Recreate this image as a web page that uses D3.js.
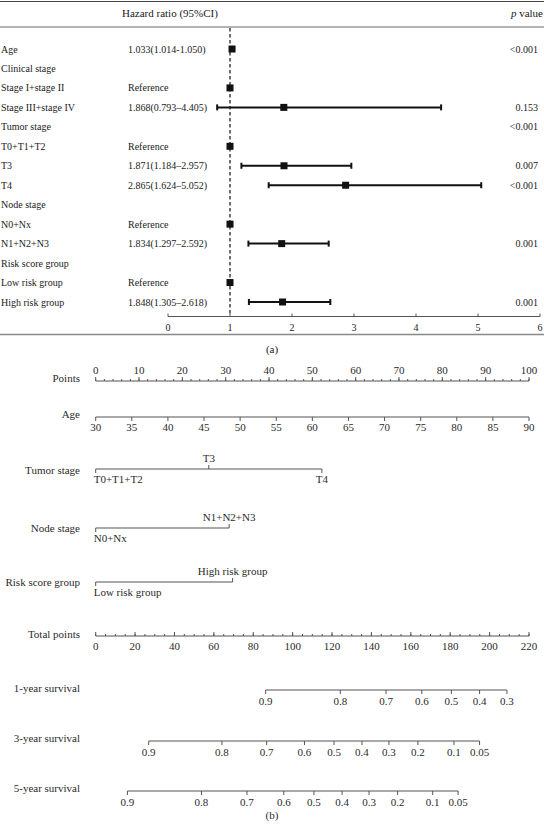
<!DOCTYPE html>
<html><head><meta charset="utf-8">
<script src="https://cdn.jsdelivr.net/npm/d3@7"></script>
<style>
html,body{margin:0;padding:0;background:#fff;}
svg text{font-family:"Liberation Serif","Times New Roman",serif;font-size:10px;fill:#1a1a1a;}
svg .nomo text{font-size:11px;fill:#2a2a2a;}
</style></head><body>
<svg id="c" width="544" height="826"></svg>
<script>
// ---------- Forest plot data (a) ----------
const forestLabels = ["Age","Clinical stage","Stage I+stage II","Stage III+stage IV","Tumor stage","T0+T1+T2","T3","T4","Node stage","N0+Nx","N1+N2+N3","Risk score group","Low risk group","High risk group"];
const hrText = ["1.033(1.014-1.050)","","Reference","1.868(0.793\u20134.405)","","Reference","1.871(1.184\u20132.957)","2.865(1.624\u20135.052)","","Reference","1.834(1.297\u20132.592)","","Reference","1.848(1.305\u20132.618)"];
const hr    = [1.033,null,1,1.868,null,1,1.871,2.865,null,1,1.834,null,1,1.848];
const hrLow = [1.014,null,null,0.793,null,null,1.184,1.624,null,null,1.297,null,null,1.305];
const hrHigh= [1.050,null,null,4.405,null,null,2.957,5.052,null,null,2.592,null,null,2.618];
const pValues = ["<0.001","","","0.153","<0.001","","0.007","<0.001","","","0.001","","","0.001"];
const forestTicks = [0,1,2,3,4,5,6];

// ---------- Nomogram data (b) ----------
const pointsTicks = d3.range(0,101,10);
const pointsMinor = d3.range(0,101,2);
const ageTicks = d3.range(30,91,5);
const tumorLevels = ["T0+T1+T2","T3","T4"];
const tumorPoints = [0,26.1,52.2];
const nodeLevels = ["N0+Nx","N1+N2+N3"];
const nodePoints = [0,30.8];
const riskLevels = ["Low risk group","High risk group"];
const riskPoints = [0,31.6];
const totalTicks = d3.range(0,221,20);
const totalMinor = d3.range(0,221,5);
const surv1Labels = ["0.9","0.8","0.7","0.6","0.5","0.4","0.3"];
const surv1Total  = [86.3,124.2,147.4,165.6,180.6,194.9,208.8];
const surv3Labels = ["0.9","0.8","0.7","0.6","0.5","0.4","0.3","0.2","0.1","0.05"];
const surv3Total  = [26.9,64.1,86.8,106.0,121.0,135.2,148.9,163.6,181.9,194.9];
const surv5Labels = ["0.9","0.8","0.7","0.6","0.5","0.4","0.3","0.2","0.1","0.05"];
const surv5Total  = [16.1,53.7,76.8,95.5,110.8,125.1,138.8,153.3,171.1,184.0];

const svg = d3.select("#c");

// ================= (a) forest plot =================
const xF = d3.scaleLinear().domain([0,6]).range([168,540]);
const yF = d3.scalePoint().domain(d3.range(forestLabels.length)).range([49,302]);

svg.append("line").attr("x1",0).attr("x2",544).attr("y1",1.5).attr("y2",1.5).attr("stroke","#444").attr("stroke-width",1.2);
svg.append("line").attr("x1",0).attr("x2",544).attr("y1",27).attr("y2",27).attr("stroke","#666").attr("stroke-width",1);
svg.append("text").attr("x",122).attr("y",17).style("font-size","11px").text("Hazard ratio (95%CI)");
const pv = svg.append("text").attr("x",543).attr("y",17).attr("text-anchor","end").style("font-size","11px");
pv.append("tspan").attr("font-style","italic").text("p");
pv.append("tspan").text(" value");

const rows = svg.append("g").selectAll("g").data(forestLabels).join("g");
rows.append("text").attr("x",1).attr("y",(d,i)=>yF(i)+3.5).text(d=>d);
rows.append("text").attr("x",128).attr("y",(d,i)=>yF(i)+3.5).text((d,i)=>hrText[i]);
rows.append("text").attr("x",538).attr("y",(d,i)=>yF(i)+3.5).attr("text-anchor","end").text((d,i)=>pValues[i]);

// reference dashed line
svg.append("line").attr("x1",xF(1)).attr("x2",xF(1)).attr("y1",28).attr("y2",316)
  .attr("stroke","#111").attr("stroke-width",1.2).attr("stroke-dasharray","3.5,2.5");

const ci = d3.range(forestLabels.length).filter(i=>hrLow[i]!==null);
const gci = svg.append("g").attr("stroke","#111").attr("stroke-width",2);
gci.selectAll(".bar").data(ci).join("line")
  .attr("x1",i=>xF(hrLow[i])).attr("x2",i=>xF(hrHigh[i])).attr("y1",i=>yF(i)).attr("y2",i=>yF(i));
gci.selectAll(".capL").data(ci.filter(i=>hrHigh[i]-hrLow[i]>0.1)).join("line")
  .attr("x1",i=>xF(hrLow[i])).attr("x2",i=>xF(hrLow[i])).attr("y1",i=>yF(i)-3).attr("y2",i=>yF(i)+3);
gci.selectAll(".capH").data(ci.filter(i=>hrHigh[i]-hrLow[i]>0.1)).join("line")
  .attr("x1",i=>xF(hrHigh[i])).attr("x2",i=>xF(hrHigh[i])).attr("y1",i=>yF(i)-3).attr("y2",i=>yF(i)+3);
const pts = d3.range(forestLabels.length).filter(i=>hr[i]!==null);
svg.append("g").selectAll("rect").data(pts).join("rect")
  .attr("x",i=>xF(hr[i])-3.5).attr("y",i=>yF(i)-3.5).attr("width",7).attr("height",7).attr("fill","#111");

// forest axis
const gxa = svg.append("g").attr("transform","translate(0,316.5)");
gxa.append("line").attr("x1",xF(0)).attr("x2",xF(6)).attr("stroke","#555");
gxa.selectAll(".t").data(forestTicks).join("line").attr("x1",d=>xF(d)).attr("x2",d=>xF(d)).attr("y1",0).attr("y2",-3).attr("stroke","#555");
gxa.selectAll("text").data(forestTicks).join("text").attr("x",d=>xF(d)).attr("y",14).attr("text-anchor","middle").text(d=>d);

svg.append("line").attr("x1",0).attr("x2",544).attr("y1",334.5).attr("y2",334.5).attr("stroke","#888").attr("stroke-width",1.5);
svg.append("text").attr("x",272).attr("y",353).attr("text-anchor","middle").style("font-size","11px").text("(a)");

// ================= (b) nomogram =================
const R0 = 95.7, R1 = 529;
const xP = d3.scaleLinear().domain([0,100]).range([R0,R1]);
const xAge = d3.scaleLinear().domain([30,90]).range([R0,R1]);
const xT = d3.scaleLinear().domain([0,220]).range([R0,R1]);
const LC = "#555";
const g = svg.append("g").attr("class","nomo");

function rowLabel(y, txt){
  g.append("text").attr("x",80).attr("y",y+3.5).attr("text-anchor","end").text(txt);
}
function numAxis(y, scale, ticks, minor, tickDir, labelSide, fmt){
  const a = g.append("g").attr("transform",`translate(0,${y})`);
  const dom = scale.domain();
  a.append("line").attr("x1",scale(dom[0])).attr("x2",scale(dom[1])).attr("stroke",LC).attr("stroke-width",1.2);
  if(minor){
    a.selectAll(".mn").data(minor).join("line").attr("x1",d=>scale(d)).attr("x2",d=>scale(d))
      .attr("y1",0).attr("y2",tickDir*2).attr("stroke",LC);
  }
  a.selectAll(".mj").data(ticks).join("line").attr("x1",d=>scale(d)).attr("x2",d=>scale(d))
    .attr("y1",0).attr("y2",tickDir*4).attr("stroke",LC);
  a.selectAll("text").data(ticks).join("text").attr("x",d=>scale(d))
    .attr("y",labelSide<0 ? -7 : 14).attr("text-anchor","middle").text(fmt||(d=>d));
}
function catAxis(y, levels, points, sides){
  const a = g.append("g").attr("transform",`translate(0,${y})`);
  a.append("line").attr("x1",xP(d3.min(points))).attr("x2",xP(d3.max(points))).attr("stroke",LC).attr("stroke-width",1.2);
  a.selectAll("line.tk").data(points).join("line").attr("class","tk").attr("x1",d=>xP(d)).attr("x2",d=>xP(d))
    .attr("y1",0).attr("y2",(d,i)=>sides[i]*4).attr("stroke",LC);
  a.selectAll("text").data(levels).join("text")
    .attr("x",(d,i)=> i===0 ? xP(points[i])-2 : xP(points[i]))
    .attr("y",(d,i)=> sides[i]<0 ? -7 : 14)
    .attr("text-anchor",(d,i)=> i===0 ? "start" : "middle").text(d=>d);
}
function survAxis(y, labels, totals){
  const a = g.append("g").attr("transform",`translate(0,${y})`);
  a.append("line").attr("x1",xT(d3.min(totals))).attr("x2",xT(d3.max(totals))).attr("stroke",LC).attr("stroke-width",1.2);
  a.selectAll("line.tk").data(totals).join("line").attr("class","tk").attr("x1",d=>xT(d)).attr("x2",d=>xT(d))
    .attr("y1",0).attr("y2",4).attr("stroke",LC);
  a.selectAll("text").data(labels).join("text").attr("x",(d,i)=>xT(totals[i])).attr("y",15)
    .attr("text-anchor","middle").text(d=>d);
}

rowLabel(378,"Points");      numAxis(381, xP, pointsTicks, pointsMinor, -1, -1);
rowLabel(414,"Age");         numAxis(417, xAge, ageTicks, null, 1, 1);
rowLabel(470,"Tumor stage"); catAxis(469, tumorLevels, tumorPoints, [1,-1,1]);
rowLabel(528,"Node stage");  catAxis(528, nodeLevels, nodePoints, [1,-1]);
rowLabel(582,"Risk score group"); catAxis(582, riskLevels, riskPoints, [1,-1]);
rowLabel(634,"Total points"); numAxis(636, xT, totalTicks, totalMinor, -1, 1);
rowLabel(688,"1-year survival"); survAxis(690, surv1Labels, surv1Total);
rowLabel(738,"3-year survival"); survAxis(741, surv3Labels, surv3Total);
rowLabel(788,"5-year survival"); survAxis(791, surv5Labels, surv5Total);
g.append("text").attr("x",272).attr("y",819).attr("text-anchor","middle").text("(b)");
</script></body></html>
